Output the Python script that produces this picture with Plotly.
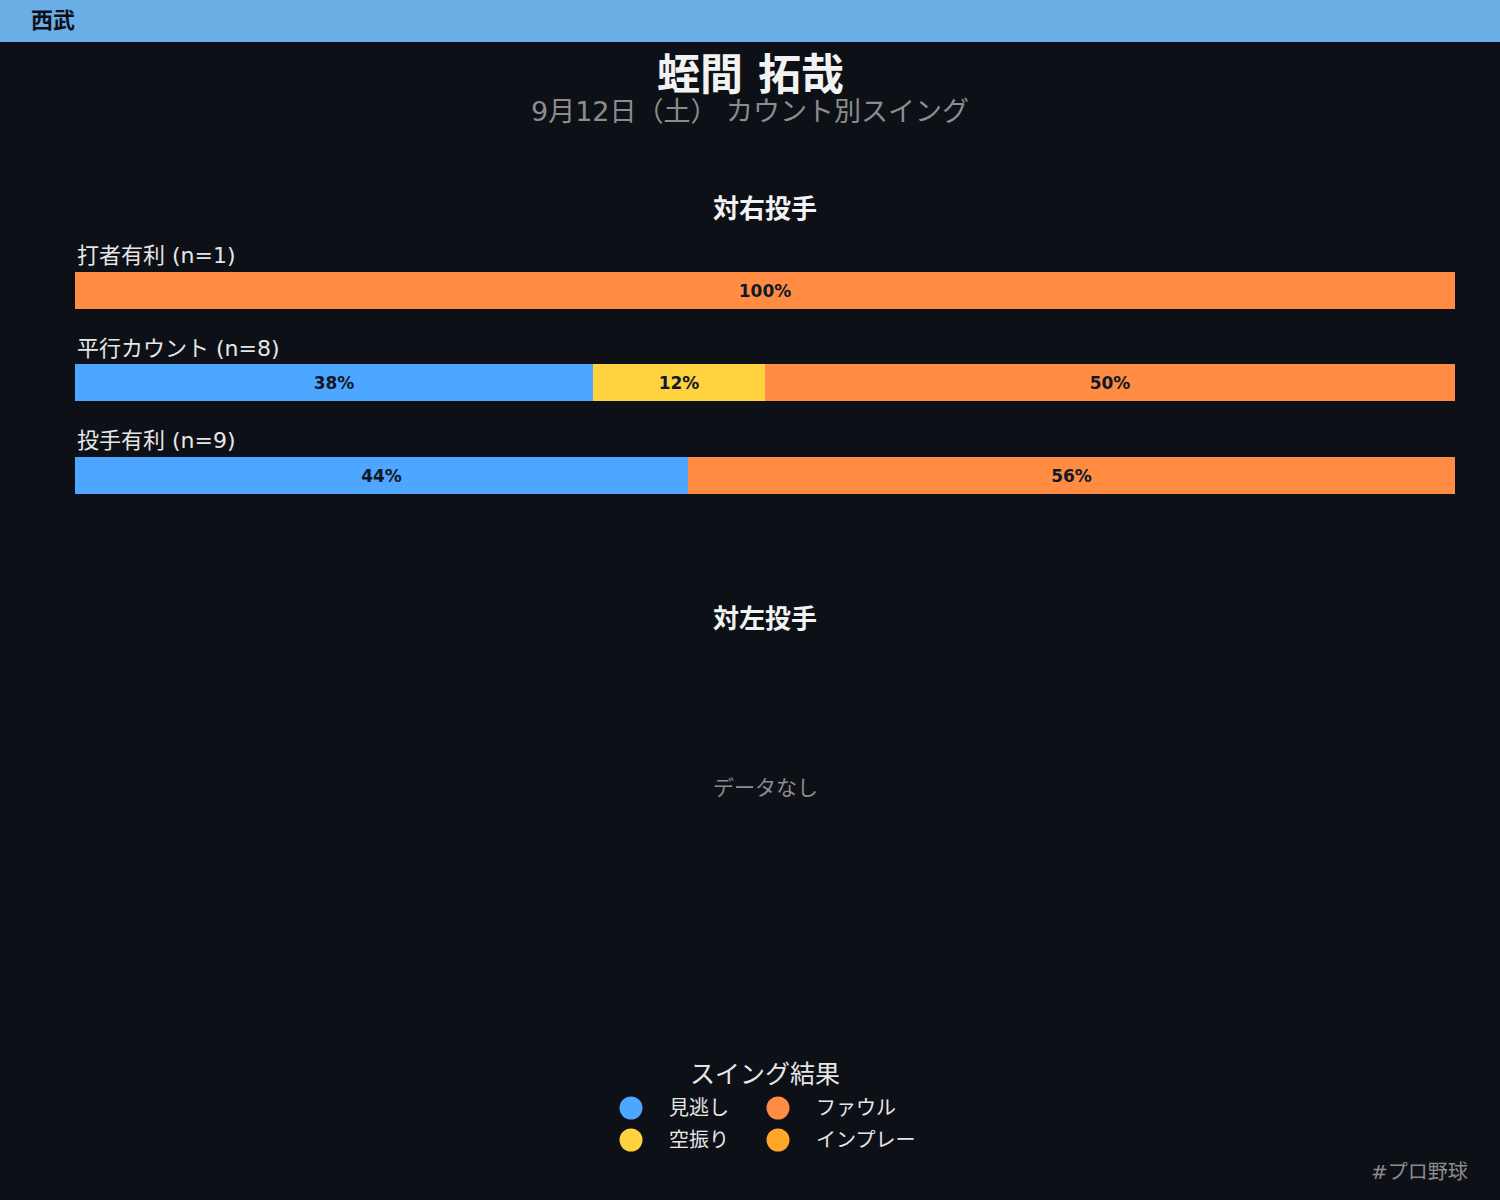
import plotly.graph_objects as go

# データ
team = "西武"
player = "蛭間 拓哉"
subtitle = "9月12日（土） カウント別スイング"
counts_order = ["打者有利", "平行カウント", "投手有利"]
n_swings = [1, 8, 9]
results = ["見逃し", "空振り", "ファウル", "インプレー"]
colors = ["#4da6ff", "#ffd23f", "#ff8c42", "#ffa62b"]
legend_col = [0, 0, 1, 1]
legend_row = [0, 1, 0, 1]
# 対右投手の件数（結果ごと）
vs_right = {
    "見逃し": [0, 3, 4],
    "空振り": [0, 1, 0],
    "ファウル": [1, 4, 5],
    "インプレー": [0, 0, 0],
}

bg = "#0e1017"
font_main = "DejaVu Sans, Noto Sans CJK JP, sans-serif"
H = 1200
W = 1500


def py(px):
    return 1 - px / H


fig = go.Figure()

for i, res in enumerate(results):
    shares = [c / n * 100 for c, n in zip(vs_right[res], n_swings)]
    labels = [f"{round(s)}%" if s > 0 else "" for s in shares]
    fig.add_trace(go.Bar(
        y=counts_order, x=shares, orientation="h", name=res,
        marker=dict(color=colors[i], line=dict(width=0)),
        text=labels, textposition="inside", insidetextanchor="middle",
        textfont=dict(family=font_main, size=17, color="#111827", weight="bold"),
        showlegend=False, hoverinfo="skip", width=0.4,
    ))

# 凡例（隠し軸上のマーカー）
fig.add_trace(go.Scatter(
    x=legend_col, y=legend_row, mode="markers", xaxis="x3", yaxis="y3",
    marker=dict(color=colors, size=23, symbol="circle"),
    showlegend=False, hoverinfo="skip", cliponaxis=False,
))
for i, res in enumerate(results):
    fig.add_annotation(text=res, x=legend_col[i], y=legend_row[i], xref="x3", yref="y3",
                       xanchor="left", yanchor="middle", xshift=36, showarrow=False,
                       font=dict(size=20, color="#e6e6e6"))

# 空のサブプロット（対左投手）
fig.add_trace(go.Scatter(x=[None], y=[None], xaxis="x2", yaxis="y2", showlegend=False))

fig.update_layout(
    width=W, height=H,
    margin=dict(l=0, r=0, t=0, b=0),
    paper_bgcolor=bg, plot_bgcolor=bg,
    barmode="stack", bargap=0, showlegend=False,
    font=dict(family=font_main, color="#e6e6e6"),
    xaxis=dict(domain=[75 / W, 1455 / W], range=[0, 100], visible=False, fixedrange=True),
    yaxis=dict(domain=[py(521.25), py(216)], range=[2.5, -0.8], visible=False,
               type="category", categoryorder="array", categoryarray=counts_order),
    xaxis2=dict(domain=[75 / W, 1455 / W], visible=False, anchor="y2"),
    yaxis2=dict(domain=[py(1000), py(650)], visible=False, anchor="x2"),
    xaxis3=dict(domain=[631 / W, 778 / W], range=[0, 1], visible=False, anchor="y3"),
    yaxis3=dict(domain=[py(1140), py(1108)], range=[1, 0], visible=False, anchor="x3"),
)

# ヘッダー
fig.add_shape(type="rect", xref="paper", yref="paper", x0=0, x1=1, y0=py(42), y1=1,
              fillcolor="#6aaee6", line=dict(width=0), layer="below")

ann = [
    dict(text=f"<b>{team}</b>", x=29 / W, y=py(21), xanchor="left", font=dict(size=22, color="#0e1017")),
    dict(text=f"<b>{player}</b>", x=0.5, y=py(75), font=dict(size=43, color="#f2f2f2")),
    dict(text=subtitle, x=0.5, y=py(111), font=dict(size=27, color="#8c8c8c")),
    dict(text="<b>対右投手</b>", x=765 / W, y=py(209), font=dict(size=26, color="#f2f2f2")),
    dict(text="<b>対左投手</b>", x=765 / W, y=py(619), font=dict(size=26, color="#f2f2f2")),
    dict(text="データなし", x=765 / W, y=py(788), font=dict(size=21, color="#8c8c8c")),
    dict(text="スイング結果", x=765 / W, y=py(1074), font=dict(size=25, color="#e6e6e6")),
    dict(text="#プロ野球", x=1470 / W, y=py(1172), xanchor="right", font=dict(size=20, color="#8c8c8c")),
]
for a in ann:
    a.setdefault("xanchor", "center")
    a.update(xref="paper", yref="paper", yanchor="middle", showarrow=False)
    fig.add_annotation(**a)

# カウント別ラベル
for c, n in zip(counts_order, n_swings):
    fig.add_annotation(text=f"{c} (n={n})", x=0, xref="x domain", y=c, yref="y",
                       yshift=34, xanchor="left", showarrow=False,
                       font=dict(size=22, color="#e6e6e6"))

fig.write_html("out.html", config={"displayModeBar": False},
               post_script="document.body.style.margin='0';document.body.style.overflow='hidden';")
